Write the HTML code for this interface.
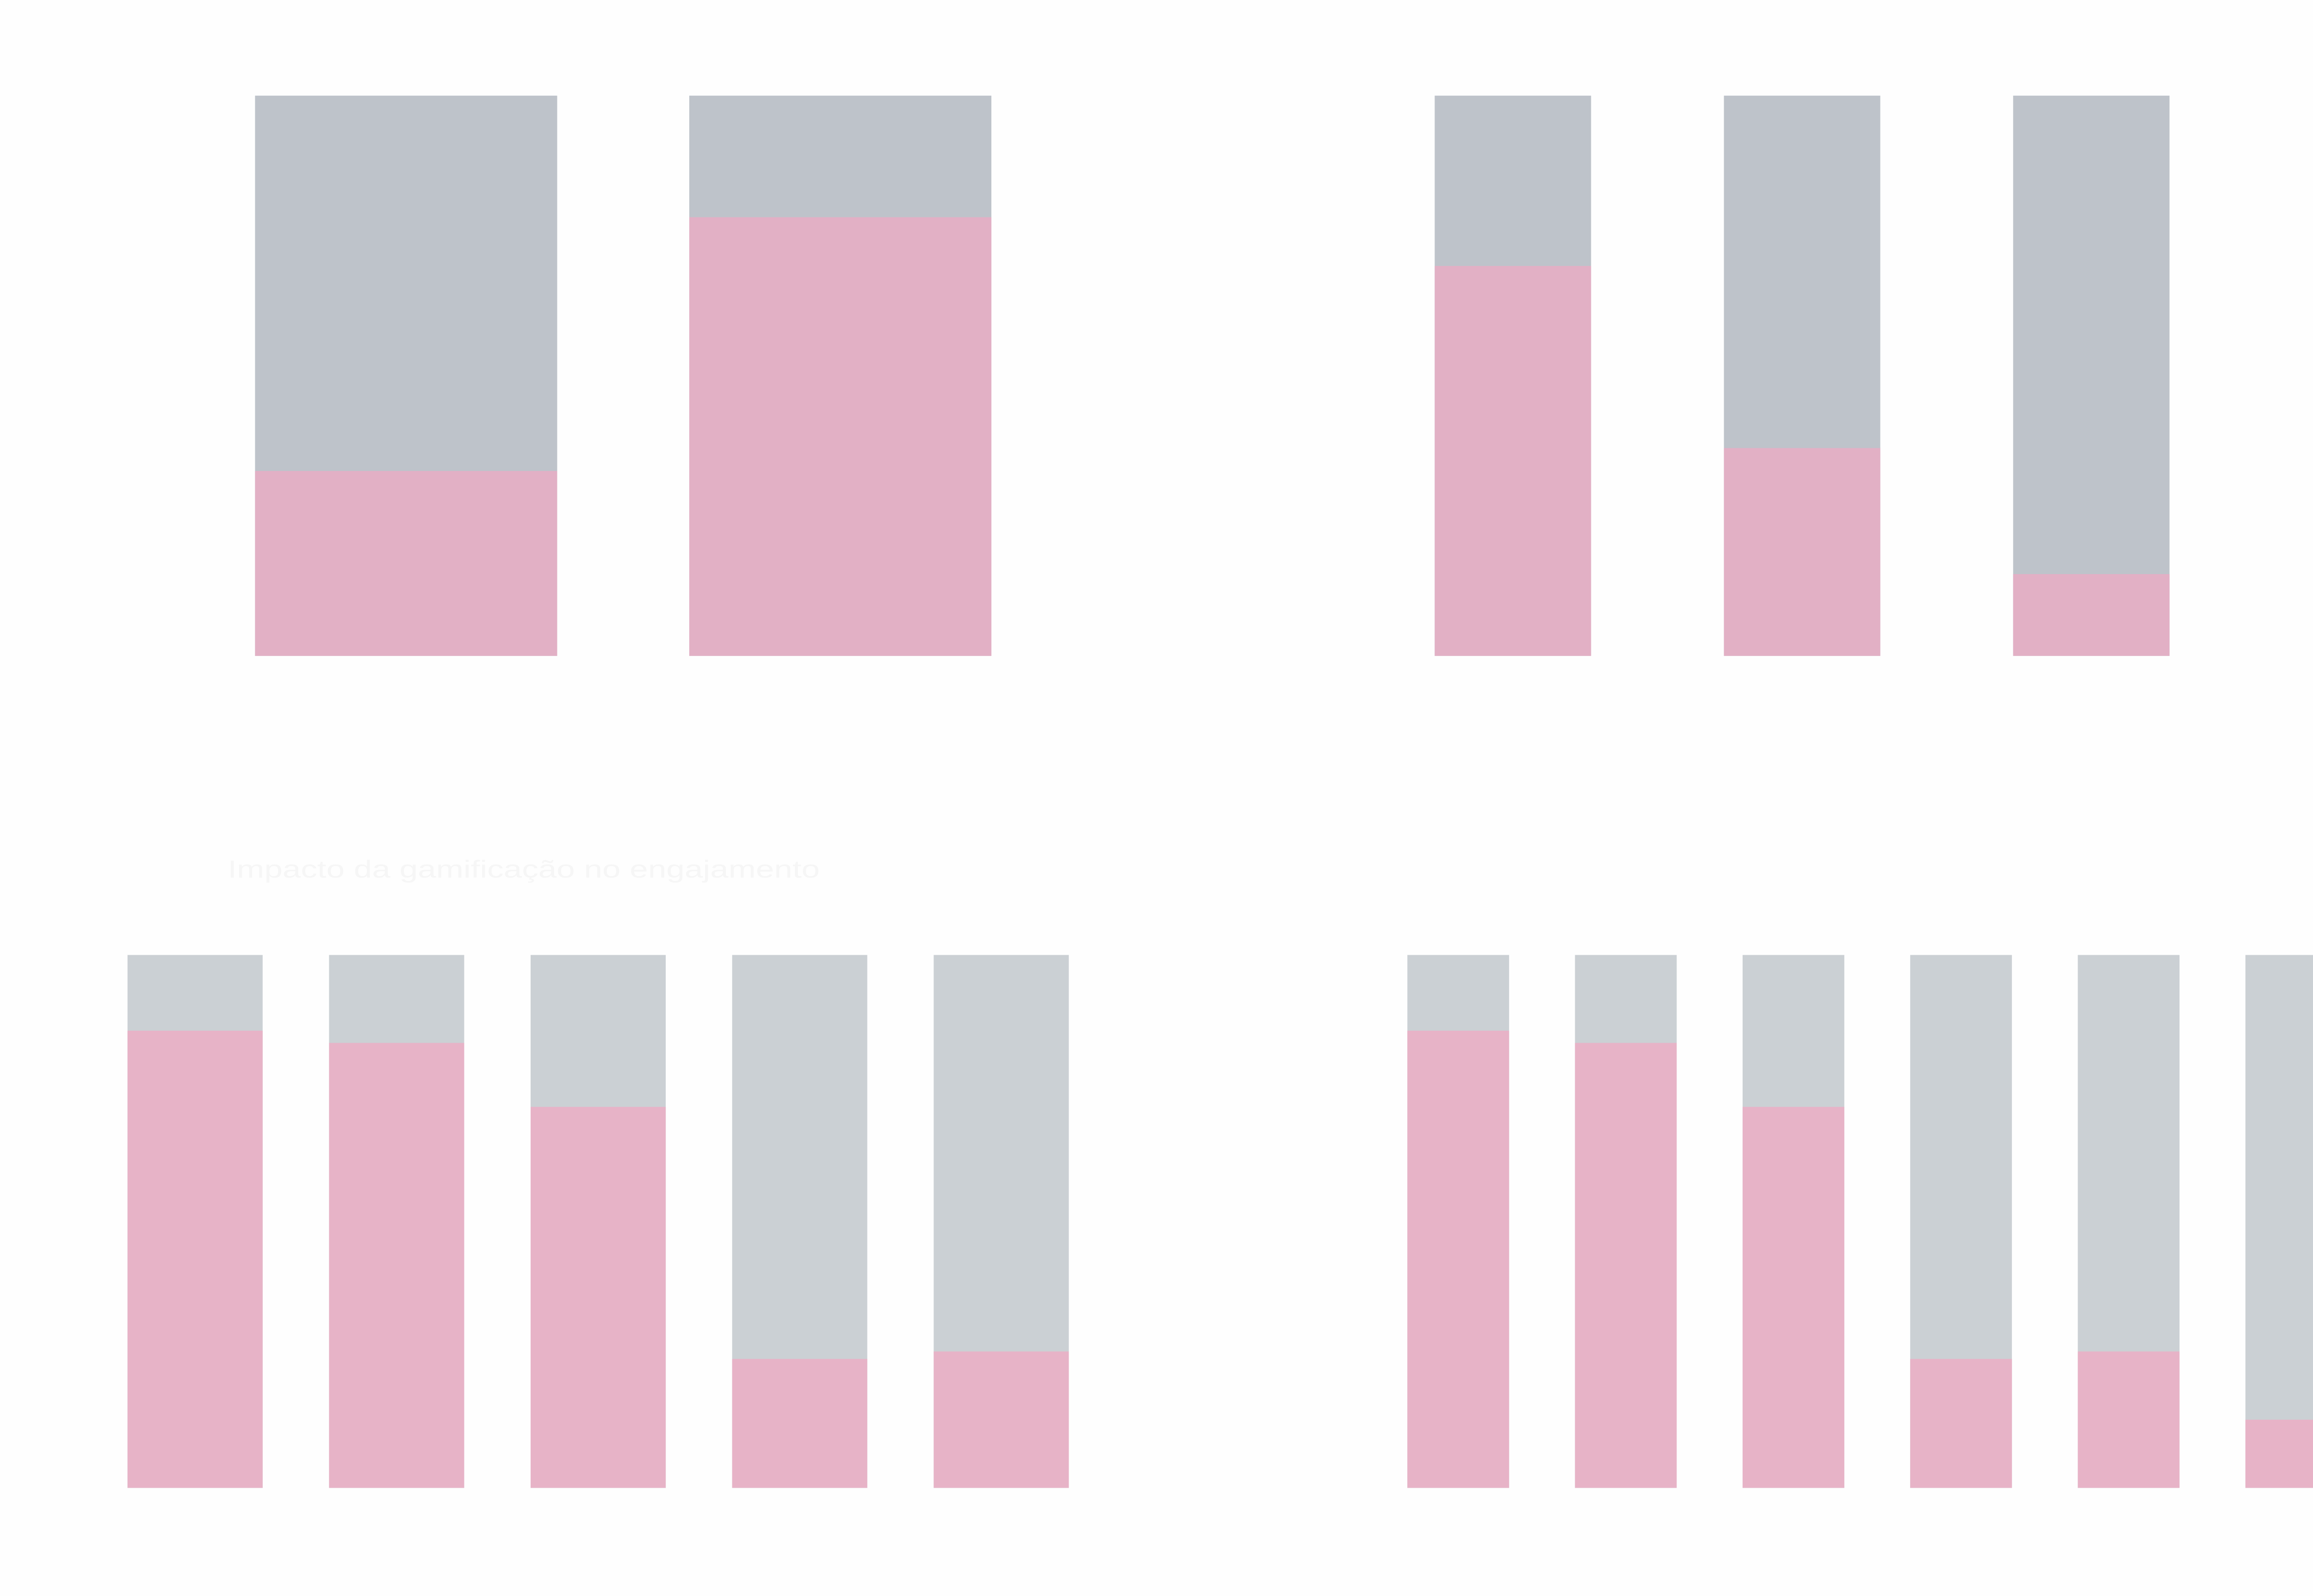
<!DOCTYPE html>
<html><head><meta charset="utf-8"><style>
html,body{margin:0;padding:0;background:#fefefe;}
svg{display:block;}
</style></head><body>
<svg id="chart" width="5146" height="3450" viewBox="0 0 1568 1051.2" preserveAspectRatio="none" xmlns="http://www.w3.org/2000/svg">
<rect x="0" y="0" width="1568" height="1052" fill="#fefefe"/>
<text x="150" y="578" font-family="Liberation Sans, sans-serif" font-size="16" fill="#f6f6f6" textLength="390" lengthAdjust="spacingAndGlyphs">Impacto da gamificação no engajamento</text>
<g id="bars"></g>
</svg>
<script>
// pink share (percent) per bar, per panel
const panelTL = [33.0, 78.3];
const panelTR = [69.6, 37.1, 14.6];
const panelBL = [85.8, 83.5, 71.5, 24.2, 25.6];
const panelBR = [85.8, 83.5, 71.5, 24.2, 25.6, 12.8];

const svg = document.getElementById('bars');
const NS = 'http://www.w3.org/2000/svg';
function yScale(v, top, bottom){ return bottom - (bottom - top) * v / 100; }
function drawPanel(values, name, x0, step, w, top, bottom, gray, pink){
  values.forEach(function(v, i){
    const x = x0 + i * step;
    const g = document.createElementNS(NS, 'rect');
    g.setAttribute('x', x); g.setAttribute('y', top);
    g.setAttribute('width', w); g.setAttribute('height', bottom - top);
    g.setAttribute('fill', gray);
    
    
    svg.appendChild(g);
    const yp = yScale(v, top, bottom);
    const p = document.createElementNS(NS, 'rect');
    p.setAttribute('x', x); p.setAttribute('y', yp);
    p.setAttribute('width', w); p.setAttribute('height', bottom - yp);
    p.setAttribute('fill', pink);
    
    
    svg.appendChild(p);
  });
}
drawPanel(panelTL, 'tl', 168, 286, 199, 63, 432, '#bec3ca', '#e2b0c5');
drawPanel(panelTR, 'tr', 945, 190.5, 103, 63, 432, '#bec3ca', '#e2b0c5');
drawPanel(panelBL, 'bl', 84, 132.75, 89, 629, 980, '#cbd0d4', '#e7b3c7');
drawPanel(panelBR, 'br', 927, 110.4, 67, 629, 980, '#cbd0d4', '#e7b3c7');
</script>
</body></html>
